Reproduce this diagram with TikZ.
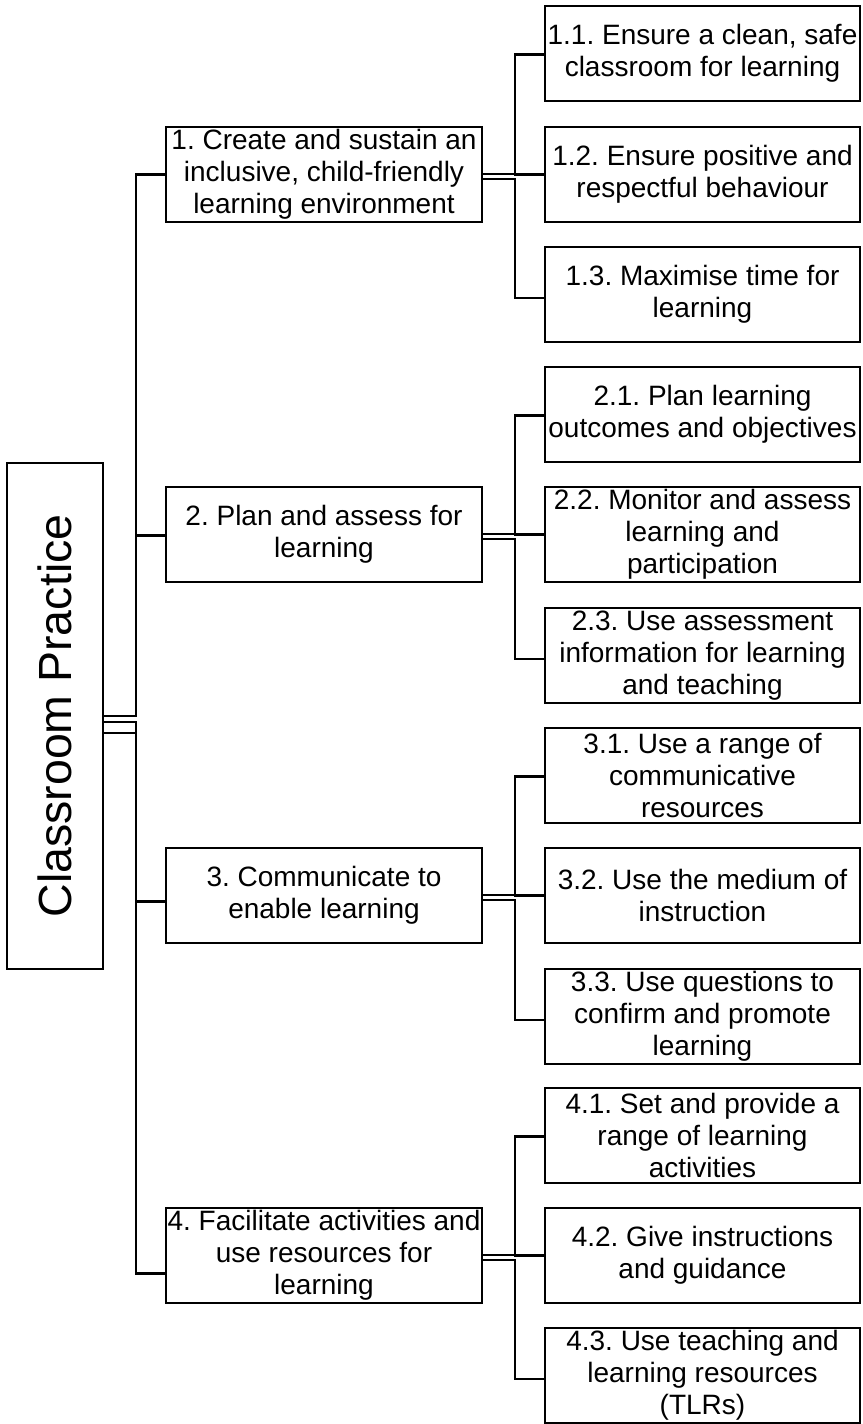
\documentclass[tikz,border=0pt]{standalone}
\usepackage{fontspec}
\setmainfont{Liberation Sans}
\usetikzlibrary{calc}
\frenchspacing
\begin{document}
\begin{tikzpicture}[x=1pt,y=-1pt,
  box/.style={draw=black, line width=2.4pt, align=center, inner sep=0pt, outer sep=0pt,
    font=\fontsize{28}{32}\selectfont\frenchspacing, anchor=north west},
  lvl/.style={box, minimum width=316pt, minimum height=95pt},
  sub/.style={box, minimum width=315pt, minimum height=95pt},
  conn/.style={draw=black, line width=2.4pt}]
\useasboundingbox (0,0) rectangle (862,1424);

% root
\node[box, anchor=center, minimum width=96pt, minimum height=506pt] (r) at (55,716)
  {\rotatebox{90}{\fontsize{46.5}{50}\selectfont Classroom Practice}};

% level 1
\node[lvl] (a1) at (166,127) {1. Create and sustain an\\inclusive, child-friendly\\learning environment};
\node[lvl] (a2) at (166,487) {2. Plan and assess for\\learning};
\node[lvl] (a3) at (166,848) {3. Communicate to\\enable learning};
\node[lvl] (a4) at (166,1208) {4. Facilitate activities and\\use resources for\\learning};

% level 2
\node[sub] (c11) at (545,6) {1.1. Ensure a clean, safe\\classroom for learning};
\node[sub] (c12) at (545,127) {1.2. Ensure positive and\\respectful behaviour};
\node[sub] (c13) at (545,247) {1.3. Maximise time for\\learning};
\node[sub] (c21) at (545,367) {2.1. Plan learning\\outcomes and objectives};
\node[sub] (c22) at (545,487) {2.2. Monitor and assess\\learning and\\participation};
\node[sub] (c23) at (545,608) {2.3. Use assessment\\information for learning\\and teaching};
\node[sub] (c31) at (545,728) {3.1. Use a range of\\communicative\\resources};
\node[sub] (c32) at (545,848) {3.2. Use the medium of\\instruction};
\node[sub] (c33) at (545,969) {3.3. Use questions to\\confirm and promote\\learning};
\node[sub] (c41) at (545,1088) {4.1. Set and provide a\\range of learning\\activities};
\node[sub] (c42) at (545,1208) {4.2. Give instructions\\and guidance};
\node[sub] (c43) at (545,1328) {4.3. Use teaching and\\learning resources\\(TLRs)};

% buses
\coordinate (b0) at (136,0);
\coordinate (b1) at (515,0);

% root to level 1
\coordinate (r1) at ($(r.east)+(0,0)$);
\coordinate (r2) at ($(r.east)+(0,6)$);
\coordinate (r3) at ($(r.east)+(0,17)$);
\coordinate (a1in) at ($(a1.west)+(0,0)$);
\coordinate (a2in) at ($(a2.west)+(0,1)$);
\coordinate (a3in) at ($(a3.west)+(0,6)$);
\coordinate (a4in) at ($(a4.west)+(0,18)$);
\draw[conn] (r1) -- (r1 -| b0) |- (a1in);
\draw[conn] (r1) -- (r1 -| b0) |- (a2in);
\draw[conn] (r2) -- (r2 -| b0) |- (a3in);
\draw[conn] (r3) -- (r3 -| b0) |- (a4in);

% level 1 to level 2
\foreach \i in {1,2,3,4}{
  \coordinate (o\i a) at ($(a\i.east)+(0,-0.5)$);
  \coordinate (o\i b) at ($(a\i.east)+(0,4.5)$);
  \coordinate (in\i 1) at ($(c\i 1.west)+(0,1)$);
  \coordinate (in\i 2) at ($(c\i 2.west)+(0,0)$);
  \coordinate (in\i 3) at ($(c\i 3.west)+(0,3.5)$);
  \draw[conn] (o\i a) -- (o\i a -| b1) |- (in\i 1);
  \draw[conn] (o\i a) -- (o\i a -| b1) |- (in\i 2);
  \draw[conn] (o\i b) -- (o\i b -| b1) |- (in\i 3);
}
\end{tikzpicture}
\end{document}
